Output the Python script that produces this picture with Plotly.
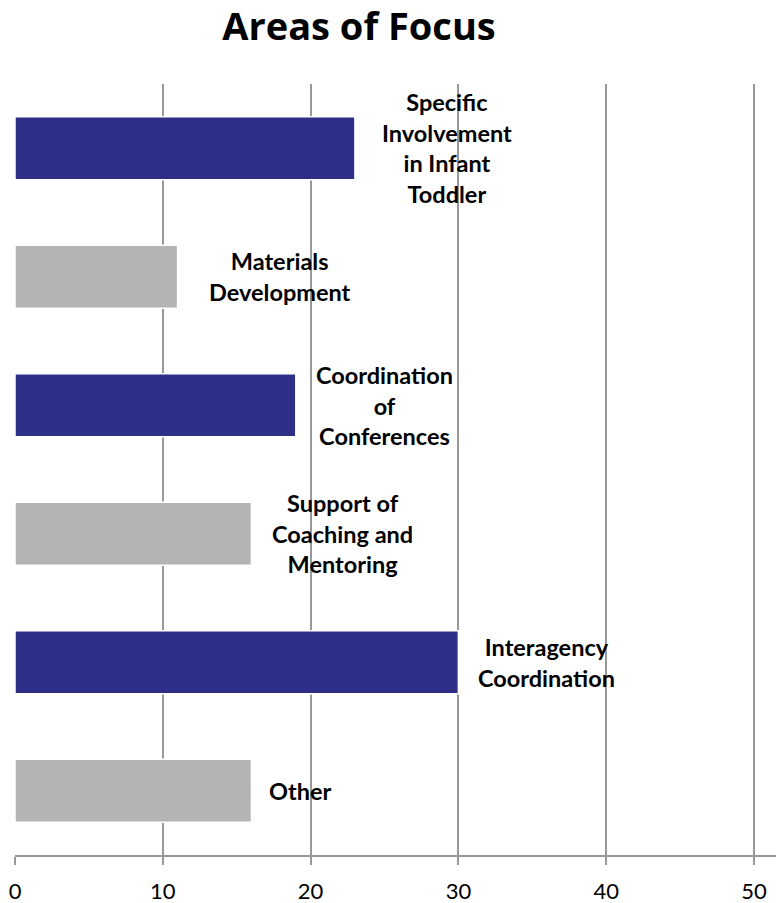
import plotly.graph_objects as go

categories = ["Specific Involvement in Infant Toddler", "Materials Development",
              "Coordination of Conferences", "Support of Coaching and Mentoring",
              "Interagency Coordination", "Other"]
label_texts = ["Specific<br>Involvement<br>in Infant<br>Toddler", "Materials<br>Development",
               "Coordination<br>of<br>Conferences", "Support of<br>Coaching and<br>Mentoring",
               "Interagency<br>Coordination", "Other"]
values = [23, 11, 19, 16, 30, 16]
tick_vals = [0, 10, 20, 30, 40, 50]
tick_text = ["0", "10", "20", "30", "40", "50"]

NAVY = "#2E3087"
GRAY = "#B4B4B4"
colors = [NAVY, GRAY, NAVY, GRAY, NAVY, GRAY]
label_shift = [92, 102, 89, 91, 88, 49]

FONT = "Lato"
W, H = 776, 895  # page body has an 8px margin

fig = go.Figure()
fig.add_trace(go.Bar(
    y=categories, x=values, orientation="h",
    marker=dict(color=colors, line=dict(color="white", width=1.5)),
    hoverinfo="skip",
))

for cat, txt, v, sh in zip(categories, label_texts, values, label_shift):
    fig.add_annotation(x=v, y=cat, text=f"<b>{txt}</b>", showarrow=False,
                       xanchor="center", yanchor="middle", xshift=sh, align="center",
                       font=dict(family=FONT, size=23.5, color="black"))

fig.update_layout(
    width=W, height=H,
    margin=dict(l=7, r=0, t=76, b=48, autoexpand=False),
    paper_bgcolor="white", plot_bgcolor="white",
    showlegend=False,
    bargap=0.51,
    title=dict(text="<b>Areas of Focus</b>", xref="container", x=351/W, xanchor="center",
               yref="container", y=1-19/H, yanchor="middle",
               font=dict(family="Open Sans", size=38, color="black")),
    xaxis=dict(range=[0, 52.03], tickvals=tick_vals, ticktext=tick_text,
               showgrid=True, gridcolor="#999999", gridwidth=1.5,
               showline=True, linecolor="#999999", linewidth=1.5,
               ticks="outside", ticklen=8, tickcolor="#999999", tickwidth=1.5,
               ticklabelstandoff=8,
               tickfont=dict(family=FONT, size=22, color="black"), zeroline=False),
    yaxis=dict(autorange="reversed", showticklabels=False, showgrid=False,
               zeroline=False, showline=False),
)

fig.write_html("out.html")
